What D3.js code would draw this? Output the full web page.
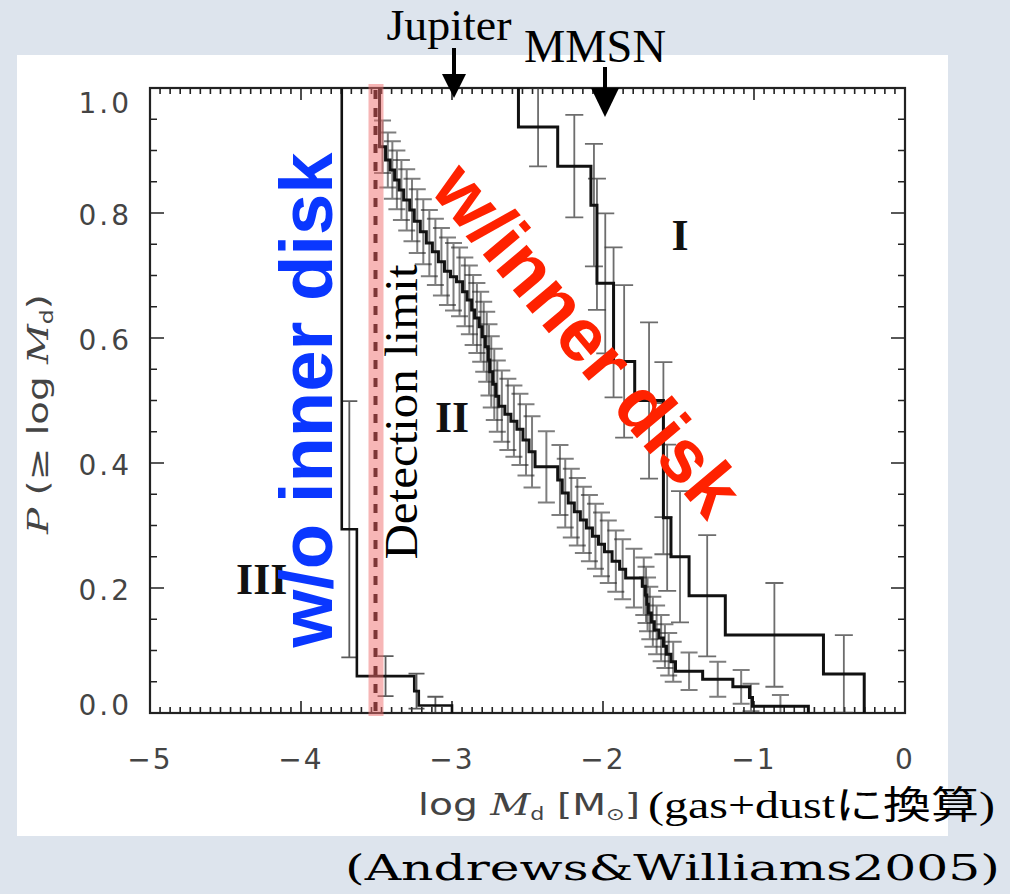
<!DOCTYPE html>
<html>
<head>
<meta charset="utf-8">
<script src="https://cdn.jsdelivr.net/npm/d3@7"></script>
<style>
  body { margin: 0; background: #dde4ed; }
  svg { display: block; }
</style>
</head>
<body>
<svg id="chart" width="1010" height="894"></svg>
<script>

// ---- data ----
var xTicks = [-5, -4, -3, -2, -1, 0];
var yTicks = [0.0, 0.2, 0.4, 0.6, 0.8, 1.0];

// Class I : step drops (log Md), level after drop, error bar half size
var classI_x   = [-2.56, -2.56, -2.30, -2.08, -2.04, -2.04, -1.93, -1.93, -1.79, -1.60, -1.60, -1.60, -1.55, -1.43, -1.19, -0.54, -0.27];
var classI_p   = [1.0, 0.9375, 0.875, 0.8125, 0.75, 0.6875, 0.625, 0.5625, 0.5, 0.4375, 0.375, 0.3125, 0.25, 0.1875, 0.125, 0.0625, 0];
var classI_err = [0, 0.063, 0.082, 0.098, 0.105, 0.112, 0.12, 0.122, 0.125, 0.124, 0.121, 0.117, 0.105, 0.097, 0.083, 0.062, 0];

// Class II
var classII_x = [-3.48, -3.48, -3.44, -3.41, -3.38, -3.35, -3.32, -3.28, -3.25, -3.21, -3.17, -3.13, -3.09, -3.05, -3.01, -2.97,
  -2.93, -2.90, -2.87, -2.85, -2.82, -2.80, -2.78, -2.76, -2.75, -2.73, -2.71, -2.69, -2.65, -2.61, -2.57, -2.53,
  -2.49, -2.45, -2.30, -2.27, -2.23, -2.19, -2.15, -2.11, -2.07, -2.03, -1.99, -1.94, -1.89, -1.85, -1.74, -1.72,
  -1.71, -1.70, -1.68, -1.66, -1.63, -1.60, -1.58, -1.55, -1.52, -1.34, -1.14, -1.03, -1.01, -0.64];
var classII_p = [1.0, 0.906, 0.885, 0.869, 0.853, 0.837, 0.821, 0.805, 0.787, 0.770, 0.752, 0.738, 0.722, 0.707, 0.698, 0.690,
  0.674, 0.661, 0.645, 0.632, 0.618, 0.602, 0.586, 0.565, 0.546, 0.526, 0.507, 0.491, 0.478, 0.467, 0.454, 0.437,
  0.418, 0.394, 0.373, 0.352, 0.336, 0.322, 0.309, 0.296, 0.283, 0.270, 0.258, 0.243, 0.230, 0.216, 0.203, 0.189,
  0.174, 0.160, 0.146, 0.133, 0.120, 0.107, 0.094, 0.082, 0.067, 0.054, 0.042, 0.025, 0.011, 0];
var classII_err = [0, 0.042, 0.044, 0.046, 0.047, 0.048, 0.049, 0.050, 0.051, 0.052, 0.053, 0.053, 0.054, 0.054, 0.054, 0.055,
  0.055, 0.055, 0.056, 0.056, 0.056, 0.056, 0.056, 0.057, 0.057, 0.057, 0.057, 0.057, 0.057, 0.057, 0.057, 0.057,
  0.057, 0.057, 0.056, 0.055, 0.055, 0.054, 0.053, 0.053, 0.052, 0.051, 0.050, 0.049, 0.048, 0.047, 0.046, 0.045,
  0.043, 0.042, 0.040, 0.039, 0.037, 0.035, 0.034, 0.032, 0.030, 0.028, 0.027, 0.022, 0.018, 0];

// Class III
var classIII_x   = [-3.73, -3.73, -3.63, -3.25, -3.22, -3.00];
var classIII_p   = [1.0, 0.294, 0.059, 0.035, 0.012, 0];
var classIII_err = [0, 0.205, 0.032, 0.028, 0.014, 0];

var markerNames = ["Jupiter", "MMSN"];
var markerX = [-3, -2];
var detectionLimit = -3.5;

// ---- layout ----
var svg = d3.select("#chart");
var plotL = 150, plotR = 905, plotT = 88, plotB = 713;

var x = d3.scaleLinear().domain([-5, 0]).range([plotL, plotR]);
var y = d3.scaleLinear().domain([0, 1]).range([plotB, plotT]);

svg.append("rect").attr("width", 1010).attr("height", 894).style("fill", "#dde4ed");
svg.append("rect")
  .attr("x", 17).attr("y", 55).attr("width", 931).attr("height", 781)
  .style("fill", "#fff");

svg.append("clipPath").attr("id", "plotclip")
  .append("rect").attr("x", plotL).attr("y", plotT).attr("width", plotR - plotL).attr("height", plotB - plotT);

// ticks (inside, all four sides)
var axisG = svg.append("g").style("stroke", "#222");
var xMinor = d3.range(0, 76).map(function(i){ return -5 + i / 15; });
var yMinor = d3.range(0, 21).map(function(i){ return i * 0.05; });

axisG.selectAll(".xt").data(xMinor).enter().append("path")
  .attr("d", function(d, i){
    var len = (i % 15 === 0) ? 12 : 6;
    var px = x(d);
    return "M" + px + "," + plotB + "v" + (-len) + "M" + px + "," + plotT + "v" + len;
  })
  .style("stroke-width", 1.6);

axisG.selectAll(".yt").data(yMinor).enter().append("path")
  .attr("d", function(d, i){
    var len = (i % 4 === 0) ? 14 : 7;
    var py = y(d);
    return "M" + plotL + "," + py + "h" + len + "M" + plotR + "," + py + "h" + (-len);
  })
  .style("stroke-width", 1.6);

svg.append("rect")
  .attr("x", plotL).attr("y", plotT).attr("width", plotR - plotL).attr("height", plotB - plotT)
  .style("fill", "none").style("stroke", "#222").style("stroke-width", 2.2);

// tick labels
svg.selectAll(".xl").data(xTicks).enter().append("text")
  .attr("x", function(d){ return x(d); })
  .attr("y", 769)
  .attr("text-anchor", "middle")
  .style("font-family", "DejaVu Sans")
  .style("font-size", "28px")
  .style("letter-spacing", "2px")
  .style("fill", "#444")
  .text(function(d){ return d < 0 ? "\u2212" + Math.abs(d) : d; });

svg.selectAll(".yl").data(yTicks).enter().append("text")
  .attr("x", 132)
  .attr("y", function(d){ return Math.max(103, Math.min(705, y(d) + 2)); })
  .attr("dy", "0.36em")
  .attr("text-anchor", "end")
  .style("font-family", "DejaVu Sans")
  .style("font-size", "28px")
  .style("letter-spacing", "3px")
  .style("fill", "#444")
  .text(function(d){ return d.toFixed(1); });

// axis titles
var yTitle = svg.append("text")
  .attr("transform", "translate(48,414) rotate(-90)")
  .attr("text-anchor", "middle")
  .style("font-family", "DejaVu Sans")
  .style("font-size", "28px")
  .style("fill", "#444")
  .attr("textLength", 240).attr("lengthAdjust", "spacingAndGlyphs");
yTitle.append("tspan").style("font-style", "italic").style("font-family", "DejaVu Serif").text("P");
yTitle.append("tspan").text(" (\u2265 log ");
yTitle.append("tspan").style("font-style", "italic").style("font-family", "DejaVu Serif").text("M");
yTitle.append("tspan").attr("dy", 5).style("font-size", "17px").text("d");
yTitle.append("tspan").attr("dy", -5).text(")");

var xTitle = svg.append("text")
  .attr("x", 418).attr("y", 815)
  .style("font-family", "DejaVu Sans")
  .style("font-size", "30px")
  .style("fill", "#444")
  .attr("textLength", 222).attr("lengthAdjust", "spacingAndGlyphs");
xTitle.append("tspan").text("log  ");
xTitle.append("tspan").style("font-style", "italic").style("font-family", "DejaVu Serif").text("M");
xTitle.append("tspan").attr("dy", 5).style("font-size", "17px").text("d");
xTitle.append("tspan").attr("dy", -5).text("  [M");
xTitle.append("tspan").attr("dy", 5).style("font-size", "17px").text("\u2299");
xTitle.append("tspan").attr("dy", -5).text("]");

svg.append("text")
  .attr("x", 648).attr("y", 818)
  .style("font-family", "Liberation Serif, Noto Sans CJK JP")
  .style("font-size", "38px")
  .style("fill", "#000")
  .attr("textLength", 347).attr("lengthAdjust", "spacingAndGlyphs")
  .text("(gas+dust\u306b\u63db\u7b97)");

svg.append("text")
  .attr("x", 345).attr("y", 880)
  .style("font-family", "DejaVu Serif")
  .style("font-size", "36px")
  .style("fill", "#000")
  .attr("textLength", 655).attr("lengthAdjust", "spacingAndGlyphs")
  .text("(Andrews&Williams2005)");

// ---- curves ----
var plot = svg.append("g").attr("clip-path", "url(#plotclip)");

var stepLine = d3.line()
  .x(function(d){ return x(d[0]); })
  .y(function(d){ return y(d[1]); })
  .curve(d3.curveStepAfter);

function drawClass(xs, ps, errs, capW, barColor, barW, lineW){
  var pts = xs.map(function(v, i){ return [v, ps[i]]; });
  var bars = [];
  for (var i = 0; i < xs.length - 1; i++){
    if (errs[i] > 0){
      bars.push({x: (xs[i] + xs[i+1]) / 2, p: ps[i], e: errs[i]});
    }
  }
  var g = plot.append("g");
  g.selectAll("path.bar").data(bars).enter().append("path")
    .attr("d", function(d){
      var bx = x(d.x), y1 = y(d.p + d.e), y2 = y(Math.max(0, d.p - d.e));
      return "M" + bx + "," + y1 + "V" + y2 +
             "M" + (bx - capW/2) + "," + y1 + "h" + capW +
             "M" + (bx - capW/2) + "," + y2 + "h" + capW;
    })
    .style("fill", "none")
    .style("stroke", barColor)
    .style("stroke-width", barW);

  g.append("path")
    .datum(pts)
    .attr("d", stepLine)
    .style("fill", "none")
    .style("stroke", "#111")
    .style("stroke-width", lineW);
}

drawClass(classIII_x, classIII_p, classIII_err, 16, "rgba(50,50,50,0.8)", 1.8, 2.6);
drawClass(classII_x, classII_p, classII_err, 17, "rgba(40,40,40,0.6)", 2, 3);
drawClass(classI_x, classI_p, classI_err, 18, "rgba(60,60,60,0.75)", 1.8, 3);

// roman numerals
var romans = [["I", -1.49, 0.765], ["II", -3.0, 0.475], ["III", -4.26, 0.215]];
svg.selectAll(".roman").data(romans).enter().append("text")
  .attr("x", function(d){ return x(d[1]); })
  .attr("y", function(d){ return y(d[2]); })
  .attr("dy", "0.35em")
  .attr("text-anchor", "middle")
  .style("font-family", "Liberation Serif")
  .style("font-weight", "bold")
  .style("font-size", "44px")
  .style("fill", "#111")
  .text(function(d){ return d[0]; });

// detection limit band + dashed line
svg.append("rect")
  .attr("x", x(detectionLimit) - 8).attr("y", 84)
  .attr("width", 15).attr("height", 632)
  .style("fill", "rgba(240,110,110,0.5)");
svg.append("line")
  .attr("x1", x(detectionLimit) - 1).attr("x2", x(detectionLimit) - 1)
  .attr("y1", plotT + 2).attr("y2", plotB)
  .style("stroke", "#7d3636").style("stroke-width", 4)
  .style("stroke-dasharray", "9,9");

svg.append("text")
  .attr("transform", "translate(417,412) rotate(-90)")
  .attr("text-anchor", "middle")
  .style("font-family", "Liberation Serif")
  .style("font-size", "46px")
  .style("fill", "#000")
  .attr("textLength", 295).attr("lengthAdjust", "spacingAndGlyphs")
  .text("Detection limit");

// big coloured labels
svg.append("text")
  .attr("transform", "translate(332,400) rotate(-90)")
  .attr("text-anchor", "middle")
  .style("font-family", "Liberation Sans")
  .style("font-weight", "bold")
  .style("font-size", "75px")
  .style("fill", "#0a37ff")
  .attr("textLength", 495).attr("lengthAdjust", "spacingAndGlyphs")
  .text("w/o inner disk");

svg.append("text")
  .attr("transform", "translate(568,356) rotate(50)")
  .attr("text-anchor", "middle")
  .style("font-family", "Liberation Sans")
  .style("font-weight", "bold")
  .style("font-size", "75px")
  .style("fill", "#ff2200")
  .text("w/inner disk");

// Jupiter / MMSN markers
var markerTextY = [40, 62];
var markerTextDx = [-3, -8];
var shaftTop = [48, 67];
var headTop = [74, 88];
var tipY = [98, 117];
var headHalf = [12, 14];

var mk = svg.selectAll(".marker").data(markerNames).enter().append("g");
mk.append("text")
  .attr("x", function(d, i){ return x(markerX[i]) + markerTextDx[i]; })
  .attr("y", function(d, i){ return markerTextY[i]; })
  .attr("text-anchor", "middle")
  .style("font-family", "Liberation Serif")
  .style("font-size", function(d, i){ return i ? "47px" : "44px"; })
  .attr("textLength", function(d, i){ return i ? 142 : 125; })
  .attr("lengthAdjust", "spacingAndGlyphs")
  .style("fill", "#000")
  .text(function(d){ return d; });
mk.append("line")
  .attr("x1", function(d, i){ return x(markerX[i]) + 2; })
  .attr("x2", function(d, i){ return x(markerX[i]) + 2; })
  .attr("y1", function(d, i){ return shaftTop[i]; })
  .attr("y2", function(d, i){ return headTop[i] + 2; })
  .style("stroke", "#000").style("stroke-width", 4);
mk.append("path")
  .attr("d", function(d, i){
    var cx = x(markerX[i]) + 2;
    return "M" + (cx - headHalf[i]) + "," + headTop[i] + "L" + (cx + headHalf[i]) + "," + headTop[i] +
           "L" + cx + "," + tipY[i] + "Z";
  })
  .style("fill", "#000");

</script>
</body>
</html>
